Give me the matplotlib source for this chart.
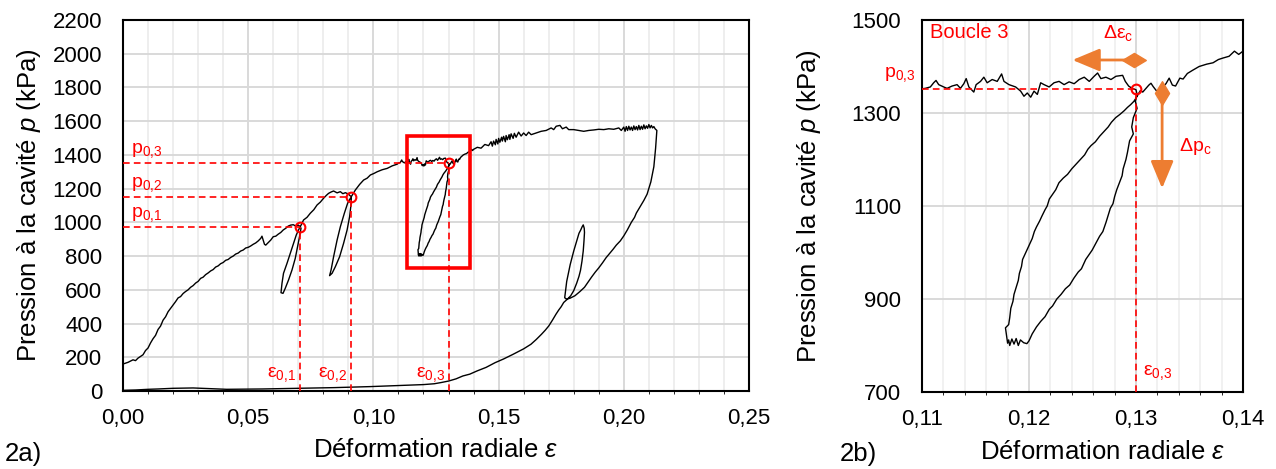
import numpy as np
import matplotlib
matplotlib.use("Agg")
import matplotlib.pyplot as plt
from matplotlib.ticker import MultipleLocator, FuncFormatter
from matplotlib.patches import Rectangle
from matplotlib.path import Path

plt.rcParams['font.family'] = ['Liberation Sans', 'DejaVu Sans']
plt.rcParams['mathtext.fontset'] = 'custom'
plt.rcParams['mathtext.rm'] = 'Liberation Sans'
plt.rcParams['mathtext.it'] = 'Liberation Sans:italic'
plt.rcParams['mathtext.bf'] = 'Liberation Sans:bold'

# ---------------- data (strain eps, pressure p in kPa) ----------------
load_a_eps = [0.000, 0.002, 0.004, 0.005, 0.006, 0.007, 0.008, 0.009, 0.010, 0.011, 0.012, 0.013, 0.014,
              0.015, 0.016, 0.017, 0.018, 0.019, 0.020, 0.021, 0.022, 0.023, 0.024, 0.025, 0.026, 0.027,
              0.028, 0.029, 0.030, 0.031, 0.032, 0.033, 0.034, 0.035, 0.036, 0.037, 0.038, 0.039, 0.040,
              0.041, 0.042, 0.043, 0.044, 0.045, 0.046, 0.047, 0.048, 0.049, 0.050, 0.051, 0.052, 0.053,
              0.054, 0.055, 0.0555, 0.0565, 0.057, 0.058, 0.059, 0.060, 0.061, 0.062, 0.063, 0.064, 0.065,
              0.066, 0.067, 0.068, 0.069, 0.070, 0.0707]
load_a_p = [160, 170, 185, 180, 195, 205, 215, 240, 255, 285, 310, 330, 365,
            385, 420, 440, 470, 490, 510, 530, 552, 560, 578, 590, 600, 615,
            625, 640, 650, 668, 675, 690, 700, 712, 720, 735, 742, 755, 762,
            775, 780, 792, 800, 812, 818, 830, 836, 848, 852, 860, 870, 878,
            890, 905, 918, 870, 865, 880, 895, 915, 918, 930, 940, 955, 965,
            978, 984, 986, 978, 984, 975]

loop1_eps = [0.0711, 0.0705, 0.0697, 0.0688, 0.0675, 0.0661, 0.0648, 0.0639, 0.0631,
             0.0635, 0.0641, 0.0655, 0.0668, 0.0681, 0.0692, 0.0701, 0.0708]
loop1_p = [965, 915, 856, 787, 718, 658, 609, 579, 583,
           639, 698, 757, 816, 876, 925, 955, 974]

load_b_eps = [0.0721, 0.0735, 0.0748, 0.0762, 0.0775, 0.0788, 0.0801, 0.0812, 0.0821, 0.0831,
              0.0841, 0.0855, 0.0868, 0.0878, 0.0888, 0.0900, 0.0911]
load_b_p = [1014, 1030, 1054, 1075, 1103, 1120, 1143, 1160, 1172, 1180,
            1186, 1175, 1182, 1170, 1176, 1168, 1152]

loop2_eps = [0.0912, 0.0905, 0.0895, 0.0881, 0.0865, 0.0848, 0.0835, 0.0825,
             0.0831, 0.0841, 0.0855, 0.0868, 0.0884, 0.0897, 0.0908, 0.0913]
loop2_p = [1123, 1034, 955, 876, 796, 737, 698, 684,
           718, 796, 895, 974, 1054, 1113, 1143, 1155]

load_c_eps = [0.0928, 0.0945, 0.0961, 0.0975, 0.0988, 0.1002, 0.1015, 0.1035, 0.1055, 0.1075, 0.1095,
              0.1100, 0.1103, 0.11078, 0.11109, 0.11131, 0.11156, 0.11203, 0.11234, 0.11281, 0.11328,
              0.11359, 0.11391, 0.11413, 0.11438, 0.11484, 0.11506, 0.11547, 0.11578, 0.11609, 0.11656,
              0.11703, 0.11744, 0.11766, 0.11813, 0.11875, 0.11922, 0.11953, 0.11984, 0.12016, 0.12047,
              0.12078, 0.12109, 0.12141, 0.12188, 0.12234, 0.12281, 0.12328, 0.12375, 0.12422, 0.12469,
              0.12516, 0.12563, 0.12609, 0.12641, 0.12672, 0.12719, 0.12766, 0.12813, 0.12875, 0.12900,
              0.12931, 0.12963, 0.13000]
load_c_p = [1192, 1225, 1251, 1262, 1281, 1290, 1300, 1312, 1320, 1335, 1345,
            1352, 1353, 1356, 1365, 1370, 1361, 1356, 1353, 1358, 1361,
            1353, 1363, 1374, 1356, 1345, 1361, 1368, 1377, 1365, 1372,
            1368, 1384, 1368, 1361, 1356, 1347, 1336, 1343, 1334, 1347,
            1340, 1365, 1361, 1356, 1365, 1368, 1361, 1367, 1363, 1372,
            1377, 1368, 1379, 1386, 1374, 1377, 1372, 1379, 1381, 1368,
            1358, 1353, 1350]

loop3_eps = [0.1301, 0.12994, 0.1301, 0.12975, 0.1296, 0.12975, 0.1294, 0.1292, 0.12906, 0.1288,
             0.1287, 0.12845, 0.1282, 0.1280, 0.12785, 0.1276, 0.1274, 0.1272, 0.1269, 0.1266,
             0.1263, 0.1259, 0.1256, 0.1253, 0.1249, 0.1246, 0.1242, 0.1238, 0.1234, 0.1230,
             0.1226, 0.1222, 0.1219, 0.1215, 0.1211, 0.1207, 0.1203, 0.1200, 0.1198,
             0.1195, 0.1192, 0.1190, 0.1188, 0.1186, 0.1184, 0.1182, 0.1181, 0.1180, 0.1179, 0.1178,
             0.1181, 0.1182, 0.1183, 0.1185, 0.1186, 0.1188, 0.1190, 0.1191, 0.1193, 0.1194,
             0.1196, 0.1198, 0.1201, 0.1203, 0.1205, 0.1207, 0.1210, 0.1212, 0.1215, 0.1217,
             0.1219, 0.1222, 0.1225, 0.1228, 0.1232, 0.1236, 0.1240, 0.1244, 0.1248, 0.1252,
             0.1255, 0.1258, 0.1262, 0.1266, 0.1270, 0.1274, 0.1277, 0.1281, 0.1285, 0.1289,
             0.1292, 0.1295, 0.1298, 0.1300, 0.1302, 0.1304]
loop3_p = [1340, 1325, 1310, 1290, 1270, 1255, 1240, 1215, 1200, 1180,
           1165, 1150, 1135, 1120, 1105, 1095, 1080, 1065, 1045, 1035,
           1022, 1005, 995, 985, 965, 958, 945, 930, 922, 910,
           900, 885, 878, 862, 852, 840, 825, 810, 804,
           806, 812, 800, 815, 803, 814, 800, 812, 805, 822, 838,
           845, 860, 880, 895, 910, 925, 940, 955, 970, 985,
           995, 1005, 1020, 1030, 1045, 1055, 1068, 1078, 1092, 1100,
           1115, 1125, 1135, 1150, 1160, 1168, 1180, 1190, 1200, 1210,
           1222, 1230, 1238, 1250, 1260, 1270, 1280, 1290, 1297, 1305,
           1312, 1318, 1325, 1332, 1340, 1348]

load_d_eps = [0.13063, 0.1309, 0.1312, 0.1314, 0.1316, 0.1319, 0.1322, 0.1325, 0.1328, 0.1331,
              0.1334, 0.1337, 0.1341, 0.1344, 0.1348, 0.1353, 0.1359, 0.1366, 0.1372, 0.1377,
              0.1381, 0.1387, 0.1392, 0.1396, 0.1400, 0.1415, 0.1430, 0.1445, 0.1460, 0.1470,
              0.1475, 0.1480, 0.1487, 0.1490, 0.1497, 0.1500, 0.1505, 0.1512, 0.1515, 0.1520,
              0.1527, 0.1530, 0.1535, 0.1542, 0.1545, 0.1550, 0.1558, 0.1563, 0.1570, 0.1580,
              0.1590, 0.1600, 0.1610, 0.1620, 0.1630, 0.1650, 0.1670, 0.1690, 0.1710, 0.1720,
              0.1730, 0.1745, 0.1755, 0.1770, 0.1780, 0.1800, 0.1820, 0.1840, 0.1860, 0.1880,
              0.1900, 0.1920, 0.1940, 0.1960, 0.1980, 0.1990, 0.2000, 0.2005, 0.2010, 0.2015,
              0.2020, 0.2025, 0.2030, 0.2035, 0.2040, 0.2045, 0.2050, 0.2055, 0.2060, 0.2065,
              0.2070, 0.2075, 0.2080, 0.2085, 0.2090, 0.2095, 0.2100, 0.2105, 0.2110, 0.2115,
              0.2120, 0.2125, 0.2132]
load_d_p = [1345, 1352, 1360, 1364, 1357, 1348, 1345, 1356, 1363, 1375,
            1360, 1358, 1375, 1373, 1385, 1392, 1400, 1405, 1408, 1415,
            1418, 1422, 1433, 1426, 1433, 1445, 1440, 1462, 1455, 1478,
            1452, 1482, 1460, 1492, 1465, 1498, 1475, 1505, 1482, 1510,
            1478, 1515, 1490, 1520, 1492, 1525, 1498, 1528, 1505, 1535,
            1512, 1530, 1515, 1535, 1520, 1530, 1540, 1545, 1560, 1550,
            1570, 1575, 1555, 1565, 1550, 1550, 1545, 1540, 1545, 1548,
            1552, 1550, 1555, 1552, 1560, 1545, 1565, 1540, 1568, 1545,
            1570, 1548, 1565, 1545, 1572, 1550, 1568, 1548, 1575, 1550,
            1570, 1552, 1578, 1555, 1572, 1558, 1580, 1560, 1575, 1560,
            1568, 1555, 1545]

unload_a_eps = [0.2130, 0.2127, 0.2124, 0.2120, 0.2114, 0.2108, 0.2100, 0.2093, 0.2080, 0.2064,
                0.2050, 0.2043, 0.2030, 0.2014, 0.2000, 0.1986, 0.1970, 0.1957, 0.1943, 0.1929,
                0.1915, 0.1900, 0.1886, 0.1871, 0.1857, 0.1843, 0.1825, 0.1805, 0.1785, 0.1771]
unload_a_p = [1500, 1440, 1390, 1330, 1285, 1240, 1200, 1167, 1130, 1090,
              1055, 1030, 1000, 955, 920, 890, 865, 840, 815, 790,
              760, 730, 705, 675, 645, 615, 590, 565, 550, 545]

loop4_eps = [0.1764, 0.1768, 0.1772, 0.1779, 0.1786, 0.1793, 0.1800, 0.1808, 0.1815, 0.1821,
             0.1828, 0.1834, 0.1838, 0.1842, 0.1843, 0.1841, 0.1838, 0.1833, 0.1827, 0.1821,
             0.1812, 0.1800, 0.1788, 0.1775]
loop4_p = [553, 600, 650, 700, 750, 790, 830, 870, 905, 935,
           955, 975, 985, 965, 940, 890, 830, 770, 715, 680,
           640, 595, 565, 545]

unload_b_eps = [0.1760, 0.1750, 0.1740, 0.1729, 0.1715, 0.1700, 0.1686, 0.1671, 0.1650, 0.1629,
                0.1600, 0.1557, 0.1520, 0.1486, 0.1450, 0.1414, 0.1385, 0.1357, 0.1330, 0.1300,
                0.1270, 0.1243, 0.1200, 0.1129, 0.1050, 0.0986, 0.0900, 0.0843, 0.0770, 0.0700,
                0.0620, 0.0557, 0.0480, 0.0414, 0.0350, 0.0280, 0.0200, 0.0140, 0.0100, 0.0050, 0.0000]
unload_b_p = [525, 500, 480, 455, 420, 385, 360, 336, 305, 277,
              250, 217, 190, 168, 140, 119, 100, 89, 72, 59,
              50, 43, 38, 34, 29, 26, 22, 20, 18, 16,
              14, 12, 11, 10, 14, 18, 16, 12, 10, 6, 4]

# characteristic points of the three loops
eps0 = [0.0707, 0.0911, 0.1300]
p0 = [975, 1152, 1352]
eps_labels = [r"ε$_\mathregular{0{,}1}$", r"ε$_\mathregular{0{,}2}$", r"ε$_\mathregular{0{,}3}$"]
p_labels = [r"p$_\mathregular{0{,}1}$", r"p$_\mathregular{0{,}2}$", r"p$_\mathregular{0{,}3}$"]

# zoom window of loop 3
zoom_eps = [0.1134, 0.1387]
zoom_p = [728, 1510]

# tick values
left_yticks = [0, 200, 400, 600, 800, 1000, 1200, 1400, 1600, 1800, 2000, 2200]
right_yticks = [700, 900, 1100, 1300, 1500]

eps_all = np.concatenate([load_a_eps, loop1_eps, load_b_eps, loop2_eps, load_c_eps, loop3_eps,
                          load_d_eps, unload_a_eps, loop4_eps, unload_b_eps])
p_all = np.concatenate([load_a_p, loop1_p, load_b_p, loop2_p, load_c_p, loop3_p,
                        load_d_p, unload_a_p, loop4_p, unload_b_p])

RED = '#FF0000'
ORANGE = '#ED7D31'

fig = plt.figure(figsize=(12.76, 4.69), dpi=100)
W, H = 1276, 469
ax1 = fig.add_axes([123 / W, (H - 391) / H, 626 / W, 371 / H])
ax2 = fig.add_axes([922 / W, (H - 392) / H, 321 / W, 372 / H])

comma = FuncFormatter(lambda v, pos: f"{v:.2f}".replace('.', ','))
intfmt = FuncFormatter(lambda v, pos: f"{v:.0f}")

for ax in (ax1, ax2):
    ax.set_axisbelow(True)
    for s in ax.spines.values():
        s.set_linewidth(1.5)
        s.set_color('black')
    ax.tick_params(length=0, labelsize=16)
    ax.tick_params(axis='y', pad=15)
    ax.tick_params(axis='x', pad=12)
    ax.xaxis.set_major_formatter(comma)
    ax.yaxis.set_major_formatter(intfmt)
    ax.plot(eps_all, p_all, color='black', lw=1.0, zorder=3)

# ---- left panel
ax1.set_xlim(0, 0.25)
ax1.set_ylim(0, 2200)
ax1.xaxis.set_major_locator(MultipleLocator(0.05))
ax1.xaxis.set_minor_locator(MultipleLocator(0.01))
ax1.set_yticks(left_yticks)
ax1.grid(True, which='major', axis='both', color='#D9D9D9', lw=1.4)
ax1.grid(True, which='minor', axis='x', color='#EBEBEB', lw=1.2)

for e, p, el, pl in zip(eps0, p0, eps_labels, p_labels):
    ax1.plot([0, e], [p, p], ls=(0, (4, 2.5)), color=RED, lw=1.2, zorder=4)
    ax1.plot([e, e], [0, p], ls=(0, (4, 2.5)), color=RED, lw=1.2, zorder=4)
    ax1.plot([e], [p], marker='o', ms=7, mfc='none', mec=RED, mew=1.5, zorder=5)
    ax1.text(0.003, p + 15, pl, color=RED, fontsize=14, ha='left', va='bottom')
    ax1.text(e - 0.0015, 40, el, color=RED, fontsize=14, ha='right', va='bottom')

ax1.add_patch(Rectangle((zoom_eps[0], zoom_p[0]), zoom_eps[1] - zoom_eps[0], zoom_p[1] - zoom_p[0],
                        fill=False, ec=RED, lw=2.6, zorder=6))

ax1.set_xlabel(r"Déformation radiale $\mathit{ε}$", fontsize=18.5)
ax1.set_ylabel(r"Pression à la cavité $\mathit{p}$ (kPa)", fontsize=18.5)
ax1.xaxis.set_label_coords(0.5, -0.128)
ax1.yaxis.set_label_coords(-0.128, 0.5)

# ---- right panel
ax2.set_xlim(0.11, 0.14)
ax2.set_ylim(700, 1500)
ax2.xaxis.set_major_locator(MultipleLocator(0.01))
ax2.xaxis.set_minor_locator(MultipleLocator(0.002))
ax2.set_yticks(right_yticks)
ax2.grid(True, which='major', axis='both', color='#D9D9D9', lw=1.4)
ax2.grid(True, which='minor', axis='x', color='#EFEFEF', lw=1.2)

e3, p3 = eps0[2], p0[2]
ax2.plot([0.11, e3], [p3, p3], ls=(0, (4, 2.5)), color=RED, lw=1.2, zorder=4)
ax2.plot([e3, e3], [700, p3], ls=(0, (4, 2.5)), color=RED, lw=1.2, zorder=4)
ax2.plot([e3], [p3], marker='o', ms=7, mfc='none', mec=RED, mew=1.5, zorder=5)
ax2.text(0.10935, 1383, p_labels[2], color=RED, fontsize=14, ha='right', va='center', clip_on=False)
ax2.text(0.1307, 722, eps_labels[2], color=RED, fontsize=14, ha='left', va='bottom')
ax2.text(0.11078, 1473, "Boucle 3", color=RED, fontsize=14.5, ha='left', va='center')

# orange arrows (start diamond, triangle head)
hdiamond = Path([(-1, 0), (0, 0.6), (1, 0), (0, -0.6), (-1, 0)], closed=True)
vdiamond = Path([(0, -1), (0.6, 0), (0, 1), (-0.6, 0), (0, -1)], closed=True)
arr = dict(arrowstyle='-|>,head_length=0.6,head_width=0.25', color=ORANGE, lw=2,
           mutation_scale=28, shrinkA=0, shrinkB=0)
ax2.annotate('', xy=(0.12406, 1414), xytext=(0.12984, 1414), arrowprops=arr, zorder=6)
ax2.plot([0.12984], [1414], marker=hdiamond, ms=17, color=ORANGE, zorder=7)
ax2.annotate('', xy=(0.13244, 1138), xytext=(0.13244, 1343), arrowprops=arr, zorder=6)
ax2.plot([0.13244], [1343], marker=vdiamond, ms=17, color=ORANGE, zorder=7)
ax2.text(0.12838, 1473, r"Δε$_\mathregular{c}$", color=RED, fontsize=14, ha='center', va='center')
ax2.text(0.13406, 1228, r"Δp$_\mathregular{c}$", color=RED, fontsize=14, ha='left', va='center')

ax2.set_xlabel(r"Déformation radiale $\mathit{ε}$", fontsize=18.5)
ax2.set_ylabel(r"Pression à la cavité $\mathit{p}$ (kPa)", fontsize=18.5)
ax2.xaxis.set_label_coords(0.564, -0.128)
ax2.yaxis.set_label_coords(-0.308, 0.5)

fig.text(5 / W, 3 / H, "2a)", fontsize=18.5, ha='left', va='bottom')
fig.text(840 / W, 3 / H, "2b)", fontsize=18.5, ha='left', va='bottom')

fig.savefig("out.png", dpi=100)
